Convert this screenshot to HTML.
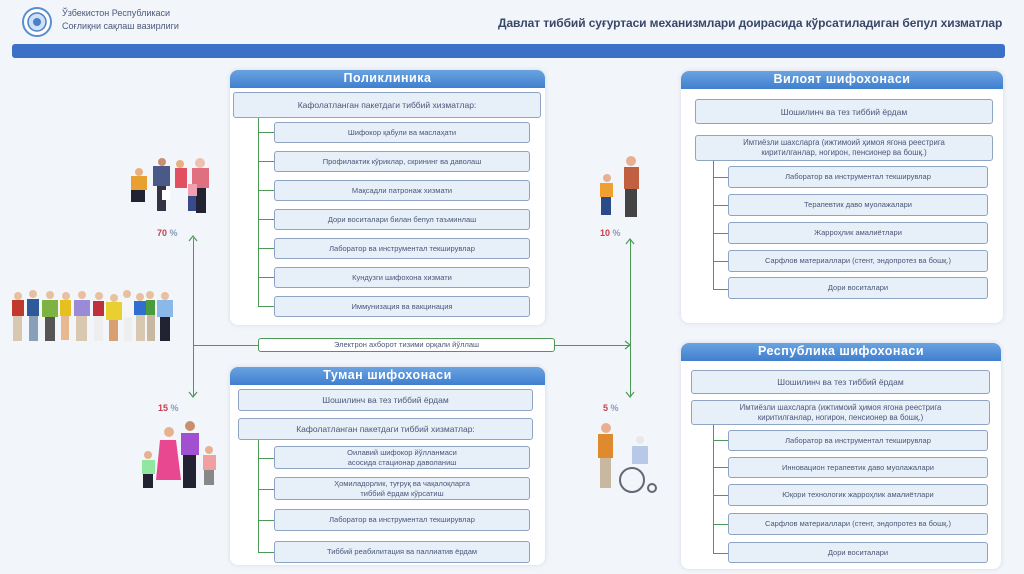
<!DOCTYPE html>
<html><head><meta charset="utf-8"><style>
*{margin:0;padding:0;box-sizing:border-box}
body{width:1024px;height:574px;background:#f2f5fa;position:relative;overflow:hidden;font-family:"Liberation Sans",sans-serif}
.a{position:absolute}
.panel{position:absolute;background:#fff;border-radius:8px;box-shadow:0 0 4px rgba(120,140,170,.25)}
.hd{position:absolute;left:0;right:0;top:0;height:18px;border-radius:8px 8px 0 0;background:linear-gradient(#6aa3e0,#3f7fcf);color:#fff;font-weight:bold;font-size:12.5px;text-align:center;line-height:17px;letter-spacing:.5px}
.b{position:absolute;background:#e7eff9;border:1px solid #8fa3c2;border-radius:3px;color:#4a5878;font-size:7.5px;text-align:center;display:flex;align-items:center;justify-content:center;line-height:10px}
.b.big{font-size:8.5px}
.vl{position:absolute;width:1px;background:#4c9a56}
.hl{position:absolute;height:1px;background:#4c9a56}
.pct{position:absolute;font-size:9px;font-weight:bold;color:#c8404a}
.pct span{color:#8a9ab8}
</style></head><body>
<!-- header -->
<svg class="a" style="left:18px;top:6px" width="38" height="32"><circle cx="19" cy="16" r="14" fill="#fff" stroke="#5a8fd0" stroke-width="2"/><circle cx="19" cy="16" r="9" fill="#cfe0f4" stroke="#4a80c8" stroke-width="1.5"/><circle cx="19" cy="16" r="4" fill="#4a80c8"/></svg>
<div class="a" style="left:62px;top:7px;font-size:9px;color:#4a5a78;line-height:13px">Ўзбекистон Республикаси<br>Соғлиқни сақлаш вазирлиги</div>
<div class="a" style="left:498px;top:16px;font-size:12px;color:#3a4868;font-weight:bold;letter-spacing:-.1px">Давлат тиббий суғуртаси механизмлари доирасида кўрсатиладиган бепул хизматлар</div>
<div class="a" style="left:12px;top:44px;width:993px;height:14px;background:#3b72c8;border-radius:3px"></div>

<!-- connectors -->
<div class="vl" style="left:193px;top:238px;height:158px"></div>
<div class="vl" style="left:630px;top:240px;height:156px"></div>
<div class="hl" style="left:193px;top:345px;width:437px"></div>
<svg class="a" style="left:0;top:0" width="1024" height="574"><g fill="none" stroke="#4c9a56" stroke-width="1.2"><path d="M189 241 L193 236 L197 241"/><path d="M189 392 L193 397 L197 392"/><path d="M626 244 L630 239 L634 244"/><path d="M626 392 L630 397 L634 392"/><path d="M625 341 L630 345 L625 349"/></g></svg>
<div class="b" style="left:258px;top:338px;width:297px;height:14px;background:#fff;border-color:#4c9a56;font-size:7.5px">Электрон ахборот тизими орқали йўллаш</div>

<div class="pct" style="left:157px;top:228px">70 <span>%</span></div>
<div class="pct" style="left:600px;top:228px">10 <span>%</span></div>
<div class="pct" style="left:158px;top:403px">15 <span>%</span></div>
<div class="pct" style="left:603px;top:403px">5 <span>%</span></div>

<!-- people -->
<svg class="a" style="left:0;top:0" width="1024" height="574">
<g id="crowd">
<g fill="#e8c0a0"><circle cx="18" cy="296" r="4"/><circle cx="33" cy="294" r="4"/><circle cx="50" cy="295" r="4"/><circle cx="66" cy="296" r="4"/><circle cx="82" cy="295" r="4"/><circle cx="99" cy="296" r="4"/><circle cx="114" cy="298" r="4"/><circle cx="127" cy="294" r="4"/><circle cx="140" cy="297" r="4"/><circle cx="150" cy="295" r="4"/><circle cx="165" cy="296" r="4"/></g>
<rect x="12" y="300" width="12" height="16" fill="#c0392b"/><rect x="27" y="299" width="12" height="17" fill="#2e5a9a"/><rect x="42" y="300" width="16" height="17" fill="#7cb342"/><rect x="60" y="300" width="11" height="16" fill="#e6c020"/><rect x="74" y="300" width="16" height="16" fill="#9b8ad8"/><rect x="93" y="301" width="11" height="15" fill="#c0303a"/><rect x="106" y="302" width="16" height="18" fill="#e8d030"/><rect x="123" y="299" width="10" height="18" fill="#f5f5f5"/><rect x="134" y="301" width="12" height="14" fill="#2f6fd0"/><rect x="146" y="300" width="9" height="15" fill="#4a9a40"/><rect x="157" y="300" width="16" height="17" fill="#8ab8e8"/>
<g fill="#777"><rect x="13" y="316" width="9" height="25" fill="#d8c8b0"/><rect x="29" y="316" width="9" height="25" fill="#8aa0b8"/><rect x="45" y="317" width="10" height="24" fill="#555"/><rect x="61" y="316" width="8" height="24" fill="#e8b890"/><rect x="76" y="316" width="11" height="25" fill="#d8c8b0"/><rect x="94" y="316" width="9" height="25" fill="#eee"/><rect x="109" y="320" width="9" height="21" fill="#d8a070"/><rect x="124" y="317" width="8" height="24" fill="#eee"/><rect x="136" y="315" width="9" height="26" fill="#d8c8b0"/><rect x="147" y="315" width="8" height="26" fill="#c8b8a0"/><rect x="160" y="317" width="10" height="24" fill="#223"/></g>
</g>
<!-- family 70 -->
<g><circle cx="139" cy="172" r="4" fill="#e8b080"/><rect x="131" y="176" width="16" height="14" fill="#e8a030"/><rect x="131" y="190" width="14" height="12" fill="#223"/><circle cx="162" cy="162" r="4" fill="#c89070"/><rect x="153" y="166" width="17" height="20" fill="#4a5a88"/><rect x="157" y="186" width="9" height="25" fill="#334"/><circle cx="180" cy="164" r="4" fill="#e8b080"/><rect x="175" y="168" width="12" height="20" fill="#e05060"/><circle cx="200" cy="163" r="5" fill="#eec0b0"/><rect x="192" y="168" width="17" height="20" fill="#e07080"/><rect x="196" y="188" width="10" height="25" fill="#223"/><rect x="162" y="190" width="8" height="10" fill="#fff"/><rect x="188" y="184" width="9" height="12" fill="#f0a0b0"/><rect x="188" y="196" width="8" height="15" fill="#3a4a88"/></g>
<!-- family 15 -->
<g><circle cx="169" cy="432" r="5" fill="#e8b090"/><path d="M160 440 h16 l5 40 h-25z" fill="#e84890"/><circle cx="190" cy="426" r="5" fill="#c89070"/><rect x="181" y="433" width="18" height="22" fill="#a050d0"/><rect x="183" y="455" width="13" height="33" fill="#223"/><circle cx="148" cy="455" r="4" fill="#e8b090"/><rect x="142" y="460" width="13" height="14" fill="#90e8a0"/><rect x="143" y="474" width="10" height="14" fill="#223"/><circle cx="209" cy="450" r="4" fill="#e8b090"/><rect x="203" y="455" width="13" height="15" fill="#f0a0a0"/><rect x="204" y="470" width="10" height="15" fill="#888"/></g>
<!-- 10% elders -->
<g><circle cx="631" cy="161" r="5" fill="#e8b090"/><rect x="624" y="167" width="15" height="22" fill="#c06040"/><rect x="625" y="189" width="12" height="28" fill="#444"/><circle cx="607" cy="178" r="4" fill="#e8b090"/><rect x="600" y="183" width="13" height="14" fill="#f0a030"/><rect x="601" y="197" width="10" height="18" fill="#2a4a88"/></g>
<!-- 5% wheelchair -->
<g><circle cx="606" cy="428" r="5" fill="#e8b090"/><rect x="598" y="434" width="15" height="24" fill="#e08a30"/><rect x="600" y="458" width="11" height="30" fill="#c8b8a0"/><circle cx="640" cy="440" r="4" fill="#e8e8e8"/><rect x="632" y="446" width="16" height="18" fill="#b8c8e8"/><circle cx="632" cy="480" r="12" fill="none" stroke="#667" stroke-width="2"/><circle cx="652" cy="488" r="4" fill="none" stroke="#667" stroke-width="2"/></g>
</svg>

<!-- Poliklinika -->
<div class="panel" style="left:230px;top:70px;width:315px;height:255px"><div class="hd">Поликлиника</div></div>
<div class="b big" style="left:233px;top:92px;width:308px;height:26px">Кафолатланган пакетдаги тиббий хизматлар:</div>
<div class="vl" style="left:258px;top:118px;height:188px"></div>
<div class="hl" style="left:258px;top:132px;width:16px"></div><div class="hl" style="left:258px;top:161px;width:16px"></div><div class="hl" style="left:258px;top:190px;width:16px"></div><div class="hl" style="left:258px;top:219px;width:16px"></div><div class="hl" style="left:258px;top:248px;width:16px"></div><div class="hl" style="left:258px;top:277px;width:16px"></div><div class="hl" style="left:258px;top:306px;width:16px"></div>
<div class="b" style="left:274px;top:122px;width:256px;height:21px">Шифокор қабули ва маслаҳати</div>
<div class="b" style="left:274px;top:151px;width:256px;height:21px">Профилактик кўриклар, скрининг ва даволаш</div>
<div class="b" style="left:274px;top:180px;width:256px;height:21px">Мақсадли патронаж хизмати</div>
<div class="b" style="left:274px;top:209px;width:256px;height:21px">Дори воситалари билан бепул таъминлаш</div>
<div class="b" style="left:274px;top:238px;width:256px;height:21px">Лаборатор ва инструментал текширувлар</div>
<div class="b" style="left:274px;top:267px;width:256px;height:21px">Кундузги шифохона хизмати</div>
<div class="b" style="left:274px;top:296px;width:256px;height:21px">Иммунизация ва вакцинация</div>

<!-- Viloyat -->
<div class="panel" style="left:681px;top:71px;width:322px;height:252px"><div class="hd">Вилоят шифохонаси</div></div>
<div class="b big" style="left:695px;top:99px;width:298px;height:25px">Шошилинч ва тез тиббий ёрдам</div>
<div class="b" style="left:695px;top:135px;width:298px;height:26px;font-size:7.8px">Имтиёзли шахсларга (ижтимоий ҳимоя ягона реестрига<br>киритилганлар, ногирон, пенсионер ва бошқ.)</div>
<div class="vl" style="left:713px;top:161px;height:128px"></div>
<div class="hl" style="left:713px;top:177px;width:15px"></div><div class="hl" style="left:713px;top:205px;width:15px"></div><div class="hl" style="left:713px;top:233px;width:15px"></div><div class="hl" style="left:713px;top:261px;width:15px"></div><div class="hl" style="left:713px;top:289px;width:15px"></div>
<div class="b" style="left:728px;top:166px;width:260px;height:22px">Лаборатор ва инструментал текширувлар</div>
<div class="b" style="left:728px;top:194px;width:260px;height:22px">Терапевтик даво муолажалари</div>
<div class="b" style="left:728px;top:222px;width:260px;height:22px">Жарроҳлик амалиётлари</div>
<div class="b" style="left:728px;top:250px;width:260px;height:22px">Сарфлов материаллари (стент, эндопротез ва бошқ.)</div>
<div class="b" style="left:728px;top:277px;width:260px;height:22px">Дори воситалари</div>

<!-- Tuman -->
<div class="panel" style="left:230px;top:367px;width:315px;height:198px"><div class="hd">Туман шифохонаси</div></div>
<div class="b big" style="left:238px;top:389px;width:295px;height:22px">Шошилинч ва тез тиббий ёрдам</div>
<div class="b big" style="left:238px;top:418px;width:295px;height:22px">Кафолатланган пакетдаги тиббий хизматлар:</div>
<div class="vl" style="left:258px;top:440px;height:112px"></div>
<div class="hl" style="left:258px;top:458px;width:16px"></div><div class="hl" style="left:258px;top:489px;width:16px"></div><div class="hl" style="left:258px;top:520px;width:16px"></div><div class="hl" style="left:258px;top:552px;width:16px"></div>
<div class="b" style="left:274px;top:446px;width:256px;height:23px">Оилавий шифокор йўлланмаси<br>асосида стационар даволаниш</div>
<div class="b" style="left:274px;top:477px;width:256px;height:23px">Ҳомиладорлик, туғруқ ва чақалоқларга<br>тиббий ёрдам кўрсатиш</div>
<div class="b" style="left:274px;top:509px;width:256px;height:22px">Лаборатор ва инструментал текширувлар</div>
<div class="b" style="left:274px;top:541px;width:256px;height:22px">Тиббий реабилитация ва паллиатив ёрдам</div>

<!-- Respublika -->
<div class="panel" style="left:681px;top:343px;width:320px;height:226px"><div class="hd">Республика шифохонаси</div></div>
<div class="b big" style="left:691px;top:370px;width:299px;height:24px">Шошилинч ва тез тиббий ёрдам</div>
<div class="b" style="left:691px;top:400px;width:299px;height:25px;font-size:7.8px">Имтиёзли шахсларга (ижтимоий ҳимоя ягона реестрига<br>киритилганлар, ногирон, пенсионер ва бошқ.)</div>
<div class="vl" style="left:713px;top:425px;height:128px"></div>
<div class="hl" style="left:713px;top:440px;width:15px"></div><div class="hl" style="left:713px;top:467px;width:15px"></div><div class="hl" style="left:713px;top:495px;width:15px"></div><div class="hl" style="left:713px;top:524px;width:15px"></div><div class="hl" style="left:713px;top:553px;width:15px"></div>
<div class="b" style="left:728px;top:430px;width:260px;height:21px">Лаборатор ва инструментал текширувлар</div>
<div class="b" style="left:728px;top:457px;width:260px;height:21px">Инновацион терапевтик даво муолажалари</div>
<div class="b" style="left:728px;top:484px;width:260px;height:22px">Юқори технологик жарроҳлик амалиётлари</div>
<div class="b" style="left:728px;top:513px;width:260px;height:22px">Сарфлов материаллари (стент, эндопротез ва бошқ.)</div>
<div class="b" style="left:728px;top:542px;width:260px;height:21px">Дори воситалари</div>
</body></html>
